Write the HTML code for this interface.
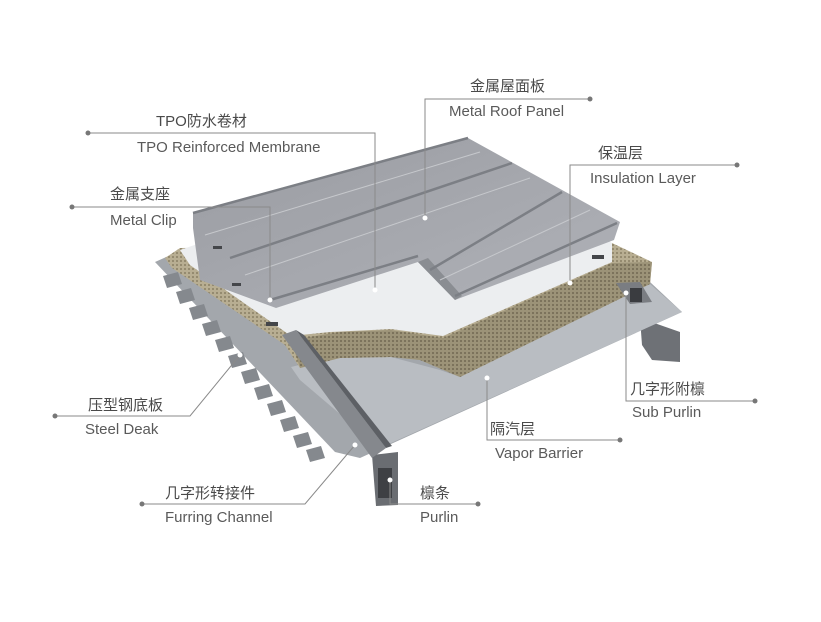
<!DOCTYPE html>
<html><head><meta charset="utf-8"><style>
body{margin:0;background:#fff;}
svg{display:block}
.cn{font-family:"Liberation Sans","Noto Sans CJK SC",sans-serif;font-size:15px;fill:#4a4a4a}
.en{font-family:"Liberation Sans",sans-serif;font-size:15px;fill:#5a5a5a}
.l{stroke:#8a8a8a;stroke-width:1;fill:none}
</style></head><body>
<svg width="821" height="622" viewBox="0 0 821 622" xmlns="http://www.w3.org/2000/svg">
<defs>
<pattern id="ins" width="4" height="4" patternUnits="userSpaceOnUse">
<rect width="4" height="4" fill="#b8ae92"/><rect width="2" height="2" fill="#958b70"/>
</pattern>
<pattern id="ins2" width="4" height="4" patternUnits="userSpaceOnUse">
<rect width="4" height="4" fill="#9c9378"/><rect width="2" height="2" fill="#7c735c"/>
</pattern>
<linearGradient id="pg" x1="0" y1="0" x2="1" y2="1">
<stop offset="0" stop-color="#9a9ca2"/><stop offset="1" stop-color="#b0b2b8"/></linearGradient>
</defs>
<!-- purlins below -->
<polygon points="640,318 680,332 680,362 652,360 642,345" fill="#6e7176"/>
<polygon points="372,455 398,452 398,505 376,506" fill="#6a6d72"/>
<rect x="378" y="468" width="14" height="30" fill="#3e4044"/>
<!-- steel deck -->
<polygon points="155,262 182,250 650,282 682,312 360,458 335,452" fill="#a3a7ac"/>
<g fill="#85898e">
<polygon points="163,276 178,272 182,284 167,288"/>
<polygon points="176,292 191,288 195,300 180,304"/>
<polygon points="189,308 204,304 208,316 193,320"/>
<polygon points="202,324 217,320 221,332 206,336"/>
<polygon points="215,340 230,336 234,348 219,352"/>
<polygon points="228,356 243,352 247,364 232,368"/>
<polygon points="241,372 256,368 260,380 245,384"/>
<polygon points="254,388 269,384 273,396 258,400"/>
<polygon points="267,404 282,400 286,412 271,416"/>
<polygon points="280,420 295,416 299,428 284,432"/>
<polygon points="293,436 308,432 312,444 297,448"/>
<polygon points="306,450 321,446 325,458 310,462"/>
</g>
<!-- vapor barrier -->
<polygon points="291,367 340,355 391,357 440,370 460,377 650,284 682,312 380,448 300,380" fill="#b9bdc2"/>
<!-- insulation -->
<polygon points="165,258 180,248 612,243 652,262 650,284 460,377 420,360 391,357 340,358 300,368 285,345 172,268" fill="url(#ins)"/>
<polygon points="291,340 340,332 391,330 443,338 612,263 652,262 650,284 460,377 420,360 391,357 340,358 300,368" fill="url(#ins2)"/>
<!-- membrane -->
<polygon points="180,250 470,150 612,243 612,262 443,336 391,329 330,332 291,336 190,265" fill="#eceef0"/>
<!-- roof panel -->
<polygon points="193,213 468,138 620,222 614,240 455,300 418,262 276,308 200,280 193,228" fill="url(#pg)"/>
<polygon points="418,262 455,300 462,296 428,258" fill="#8a8d92"/>
<g stroke="#7c7f85" stroke-width="2.5" fill="none">
<line x1="193" y1="213" x2="468" y2="138"/>
<line x1="230" y1="258" x2="512" y2="163"/>
<line x1="270" y1="300" x2="418" y2="256"/>
<line x1="430" y1="270" x2="562" y2="192"/>
<line x1="455" y1="296" x2="617" y2="223"/>
</g>
<g stroke="#c6c8cc" stroke-width="1" fill="none">
<line x1="205" y1="235" x2="480" y2="152"/>
<line x1="245" y1="275" x2="530" y2="178"/>
<line x1="440" y1="280" x2="590" y2="210"/>
</g>
<!-- clips -->
<g fill="#44464a"><rect x="213" y="246" width="9" height="3"/><rect x="232" y="283" width="9" height="3"/><rect x="266" y="322" width="12" height="4"/><rect x="592" y="255" width="12" height="4"/></g>
<!-- beams -->
<polygon points="282,335 296,330 386,448 372,458" fill="#85888d"/>
<polygon points="296,330 304,335 392,446 386,448" fill="#5d6065"/>
<polygon points="616,283 640,282 652,302 630,304" fill="#7a7d82"/>
<rect x="630" y="288" width="12" height="14" fill="#3a3c40"/>
<!-- leader lines -->
<g class="l">
<polyline points="590,99 425,99 425,218"/>
<polyline points="88,133 375,133 375,290"/>
<polyline points="737,165 570,165 570,283"/>
<polyline points="72,207 270,207 270,300"/>
<polyline points="55,416 190,416 240,355"/>
<polyline points="755,401 626,401 626,293"/>
<polyline points="620,440 487,440 487,378"/>
<polyline points="142,504 305,504 355,445"/>
<polyline points="478,504 390,504 390,480"/>
</g>
<g fill="#777">
<circle cx="590" cy="99" r="2.5"/><circle cx="88" cy="133" r="2.5"/><circle cx="737" cy="165" r="2.5"/>
<circle cx="72" cy="207" r="2.5"/><circle cx="55" cy="416" r="2.5"/><circle cx="755" cy="401" r="2.5"/>
<circle cx="620" cy="440" r="2.5"/><circle cx="142" cy="504" r="2.5"/><circle cx="478" cy="504" r="2.5"/>
</g>
<g fill="#fff">
<circle cx="425" cy="218" r="2.5"/><circle cx="375" cy="290" r="2.5"/><circle cx="570" cy="283" r="2.5"/>
<circle cx="270" cy="300" r="2.5"/><circle cx="240" cy="355" r="2.5"/><circle cx="626" cy="293" r="2.5"/>
<circle cx="487" cy="378" r="2.5"/><circle cx="355" cy="445" r="2.5"/><circle cx="390" cy="480" r="2.5"/>
</g>
<!-- labels -->
<text class="cn" x="470" y="91">金属屋面板</text><text class="en" x="449" y="116">Metal Roof Panel</text>
<text class="cn" x="156" y="126">TPO防水卷材</text><text class="en" x="137" y="152">TPO Reinforced Membrane</text>
<text class="cn" x="598" y="158">保温层</text><text class="en" x="590" y="183">Insulation Layer</text>
<text class="cn" x="110" y="199">金属支座</text><text class="en" x="110" y="225">Metal Clip</text>
<text class="cn" x="88" y="410">压型钢底板</text><text class="en" x="85" y="434">Steel Deak</text>
<text class="cn" x="630" y="394">几字形附檩</text><text class="en" x="632" y="417">Sub Purlin</text>
<text class="cn" x="490" y="434">隔汽层</text><text class="en" x="495" y="458">Vapor Barrier</text>
<text class="cn" x="165" y="498">几字形转接件</text><text class="en" x="165" y="522">Furring Channel</text>
<text class="cn" x="420" y="498">檩条</text><text class="en" x="420" y="522">Purlin</text>
</svg>
</body></html>
